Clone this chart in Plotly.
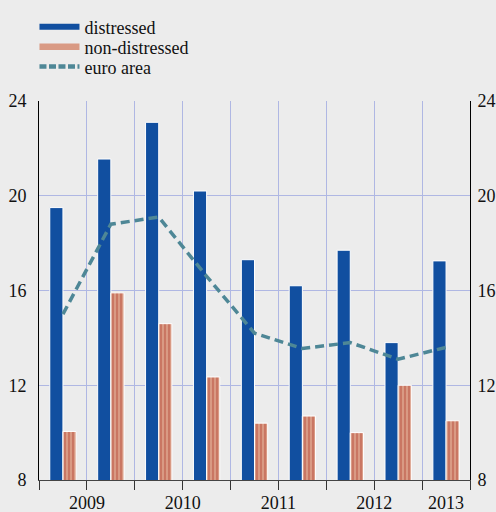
import plotly.graph_objects as go

# ---- data ----
periods = ["2009 H1", "2009 H2", "2010 H1", "2010 H2", "2011 H1",
           "2011 H2", "2012 H1", "2012 H2", "2013 H1"]
distressed = [19.5, 21.55, 23.1, 20.2, 17.3, 16.2, 17.7, 13.8, 17.25]
non_distressed = [10.05, 15.9, 14.6, 12.35, 10.4, 10.7, 10.0, 12.0, 10.5]
euro_area = [15.0, 18.8, 19.1, 16.6, 14.2, 13.55, 13.8, 13.1, 13.6]
year_labels = ["2009", "2010", "2011", "2012", "2013"]
y_ticks = [8, 12, 16, 20, 24]

# ---- layout helpers ----
idx = list(range(len(periods)))
boundaries = [i - 0.5 for i in range(len(periods) + 1)]
year_centers = [0.5, 2.5, 4.5, 6.5, 8.0]

BG = "#ECECEC"
BLUE = "#114FA0"
SALMON = "#D99A84"
RED = "#A82A1C"
TEAL = "#4E8796"
GRID = "#AFB7E3"
FONT = "Liberation Serif, Times New Roman, serif"

fig = go.Figure()

fig.add_trace(go.Bar(
    x=idx, y=distressed, name="distressed", showlegend=False,
    marker=dict(color=BLUE, line=dict(color="white", width=1)),
))
fig.add_trace(go.Bar(
    x=idx, y=non_distressed, name="non-distressed", showlegend=False,
    marker=dict(color=SALMON, line=dict(color="white", width=1),
                pattern=dict(shape="|", fgcolor=RED, bgcolor=SALMON,
                             size=4, solidity=0.32, fillmode="overlay")),
))
fig.add_trace(go.Scatter(
    x=idx, y=euro_area, name="euro area", mode="lines", showlegend=False,
    line=dict(color=TEAL, width=3.5, dash="9px,5px"),
    xaxis="x2", yaxis="y2",
))

# legend entries (wide swatches), one legend each for exact placement
fig.add_trace(go.Scatter(x=[None], y=[None], mode="lines", name="distressed",
                         line=dict(color=BLUE, width=6), legend="legend"))
fig.add_trace(go.Scatter(x=[None], y=[None], mode="lines", name="non-distressed",
                         line=dict(color=SALMON, width=6.5), legend="legend2"))
fig.add_trace(go.Scatter(x=[None], y=[None], mode="lines", name="euro area",
                         line=dict(color=TEAL, width=4.5, dash="7px,2.5px"),
                         legend="legend3"))

leg_common = dict(x=-0.0105, xanchor="left", yanchor="middle", itemwidth=40,
                  bgcolor="rgba(0,0,0,0)", font=dict(family=FONT, size=18,
                                                     color="#111"))

fig.update_layout(
    width=496, height=512,
    margin=dict(l=39, r=26, t=101, b=32, autoexpand=False),
    paper_bgcolor=BG, plot_bgcolor=BG,
    font=dict(family=FONT, size=18, color="#111"),
    barmode="group", bargap=0.45, bargroupgap=0,
    showlegend=True,
    legend=dict(y=1.195, **leg_common),
    legend2=dict(y=1.1425, **leg_common),
    legend3=dict(y=1.09, **leg_common),
    xaxis=dict(range=[-0.5, 8.5], tickmode="array", tickvals=boundaries,
               ticktext=[""] * len(boundaries), ticks="outside", ticklen=9,
               tickcolor="#333", showgrid=True, gridcolor=GRID, gridwidth=1,
               showline=True, linecolor="#444", linewidth=1, zeroline=False,
               fixedrange=True),
    xaxis2=dict(range=[-0.5, 8.5], overlaying="x", anchor="y", side="bottom",
                tickmode="array", tickvals=year_centers, ticktext=year_labels,
                ticks="", showgrid=False, showline=False, zeroline=False,
                ticklabelstandoff=10, tickfont=dict(family=FONT, size=18)),
    yaxis=dict(range=[8, 24], tickmode="array", tickvals=y_ticks, ticks="",
               showgrid=True, gridcolor=GRID, gridwidth=1, showline=True,
               linecolor="black", linewidth=1, zeroline=False,
               ticklabelstandoff=8, tickfont=dict(family=FONT, size=18)),
    yaxis2=dict(range=[8, 24], overlaying="y", side="right", anchor="x",
                tickmode="array", tickvals=y_ticks, ticks="", showgrid=False,
                showline=True, linecolor="black", linewidth=1, zeroline=False,
                ticklabelstandoff=3, tickfont=dict(family=FONT, size=18)),
)

fig.write_html(
    "out.html",
    config={"displayModeBar": False},
    post_script="document.body.style.margin='0px';document.body.style.background='#ECECEC';",
)
